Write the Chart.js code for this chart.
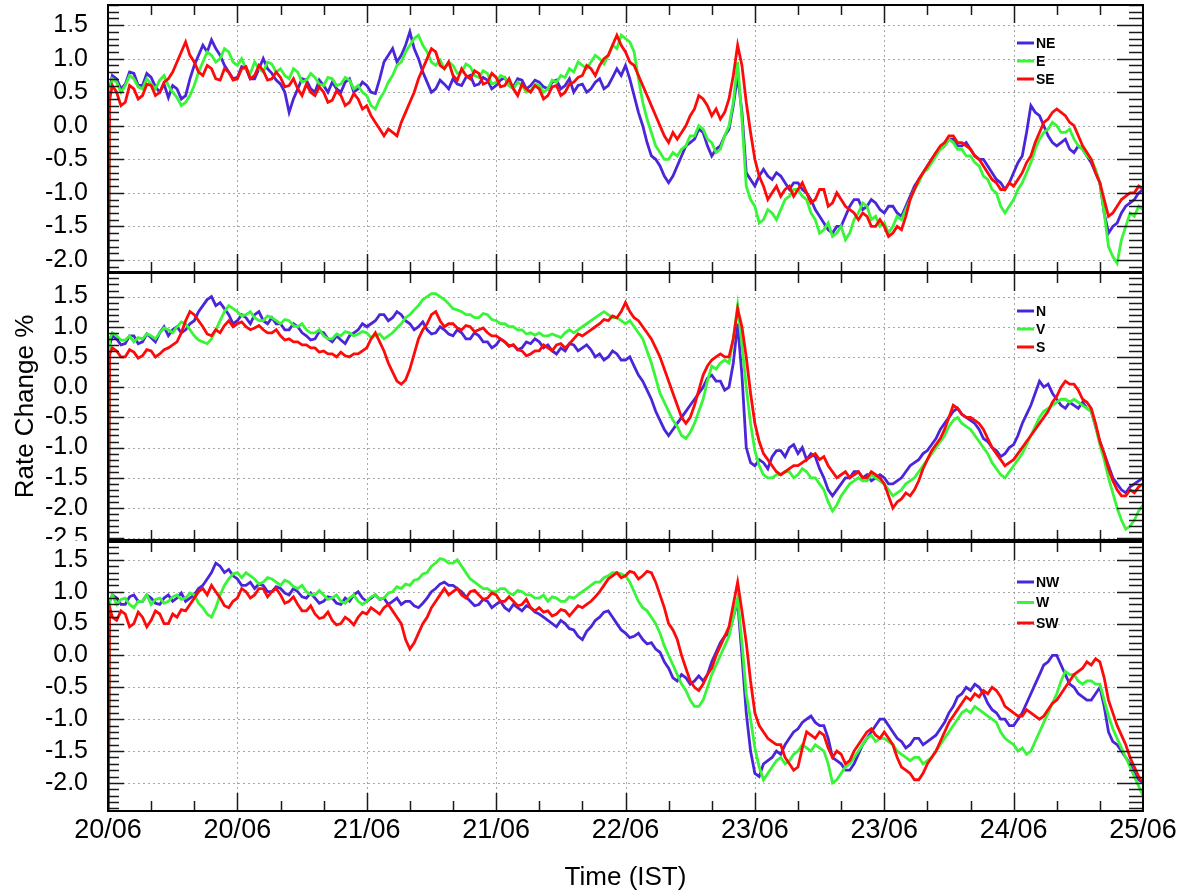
<!DOCTYPE html>
<html>
<head>
<meta charset="utf-8">
<script src="https://cdn.jsdelivr.net/npm/chart.js@4.4.1/dist/chart.umd.min.js"></script>
<style>
  html, body { margin: 0; padding: 0; background: #fff; }
  #wrap { position: relative; width: 1179px; height: 893px; overflow: hidden; background: #fff; }
  canvas { position: absolute; left: 0; }
</style>
</head>
<body>
<div id="wrap">
  <canvas id="p1" width="1179" height="273" style="top:0px"></canvas>
  <canvas id="p2" width="1179" height="268" style="top:273px"></canvas>
  <canvas id="p3" width="1179" height="352" style="top:541px"></canvas>
</div>
<script>
// Rate change (%) per direction, half-hourly readings from 20/06 00:00 to 25/06 00:00 (IST)

const xTickLabels = ['20/06', '20/06', '21/06', '21/06', '22/06', '23/06', '23/06', '24/06', '25/06'];
const STEP_HOURS = 0.5;
const START_DROP = -3; // first reading sits below every panel's axis

// panel 1 (one row = 10 hours)
const seriesNE = [
  0.55, 0.75, 0.7, 0.55, 0.62, 0.8, 0.78, 0.6, 0.6, 0.78, 0.72, 0.58, 0.5, 0.62, 0.42, 0.6, 0.55, 0.4, 0.45, 0.7,
  0.9, 1.05, 1.2, 1.1, 1.28, 1.15, 1.05, 0.9, 0.8, 0.7, 0.72, 0.88, 0.85, 0.7, 0.7, 0.85, 1.0, 0.85, 0.78, 0.68,
  0.62, 0.5, 0.2, 0.4, 0.55, 0.7, 0.68, 0.55, 0.5, 0.68, 0.6, 0.5, 0.65, 0.55, 0.5, 0.65, 0.7, 0.5, 0.55, 0.65,
  0.6, 0.5, 0.48, 0.7, 0.95, 1.05, 1.15, 0.95, 1.05, 1.2, 1.4, 1.15, 1.0, 0.8, 0.65, 0.5, 0.55, 0.68, 0.62, 0.55,
  0.7, 0.62, 0.6, 0.72, 0.75, 0.6, 0.62, 0.72, 0.68, 0.55, 0.6, 0.68, 0.72, 0.6, 0.58, 0.7, 0.68, 0.55, 0.6, 0.68,
  0.65, 0.58, 0.55, 0.65, 0.68, 0.55, 0.6, 0.7, 0.5, 0.6, 0.62, 0.5, 0.55, 0.65, 0.7, 0.55, 0.6, 0.72, 0.85, 0.75,
  0.9, 0.7, 0.45, 0.2, 0.0, -0.25, -0.45, -0.5, -0.6, -0.75, -0.85, -0.75, -0.6, -0.45, -0.3, -0.25, -0.2, -0.05, -0.1, -0.3,
  -0.45, -0.35, -0.3, -0.15, -0.05, 0.3, 0.75, 0.2, -0.7, -0.8, -0.9, -0.75, -0.65, -0.75, -0.8, -0.7, -0.75, -0.85, -0.95, -0.85,
  -0.85, -0.95, -1.0, -1.1, -1.25, -1.35, -1.45, -1.55, -1.6, -1.5, -1.5, -1.35, -1.2, -1.1, -1.1, -1.25, -1.2, -1.1, -1.15, -1.25,
  -1.3, -1.2, -1.2, -1.3, -1.35, -1.2, -1.05, -0.9, -0.8, -0.7, -0.6, -0.5, -0.4, -0.35, -0.3, -0.2, -0.2, -0.3, -0.3, -0.25,
  -0.35, -0.45, -0.5, -0.5, -0.6, -0.7, -0.8, -0.85, -0.95, -0.85, -0.7, -0.55, -0.45, -0.1, 0.3, 0.2, 0.15, 0.0, -0.15, -0.25,
  -0.3, -0.25, -0.2, -0.35, -0.4, -0.3, -0.35, -0.45, -0.55, -0.7, -0.85, -1.3, -1.6, -1.5, -1.45, -1.3, -1.2, -1.15, -1.1, -1.0, -0.95
];
const seriesE = [
  0.5, 0.7, 0.65, 0.5, 0.6, 0.75, 0.7, 0.58, 0.55, 0.7, 0.62, 0.55, 0.68, 0.75, 0.6, 0.5, 0.42, 0.3, 0.35, 0.45,
  0.6, 0.8, 0.95, 1.1, 1.05, 0.95, 1.0, 1.15, 1.1, 0.95, 0.9, 1.0, 0.85, 0.78, 0.95, 0.85, 0.8, 0.95, 0.92, 0.8,
  0.85, 0.75, 0.7, 0.85, 0.8, 0.65, 0.68, 0.78, 0.72, 0.62, 0.6, 0.72, 0.7, 0.6, 0.62, 0.72, 0.68, 0.55, 0.6, 0.5,
  0.45, 0.3, 0.25, 0.4, 0.5, 0.65, 0.75, 0.9, 0.95, 1.1, 1.2, 1.3, 1.35, 1.2, 1.1, 0.95, 0.9, 0.98, 0.85, 0.95,
  0.9, 0.78, 0.8, 0.92, 0.88, 0.75, 0.72, 0.82, 0.78, 0.62, 0.65, 0.75, 0.72, 0.6, 0.55, 0.65, 0.6, 0.5, 0.52, 0.62,
  0.6, 0.5, 0.55, 0.68, 0.65, 0.75, 0.72, 0.85, 0.8, 0.95, 0.9, 0.85, 0.95, 1.05, 1.0, 0.92, 1.05, 1.2, 1.15, 1.35,
  1.3, 1.25, 1.1, 0.7, 0.35, 0.1, -0.1, -0.3, -0.4, -0.5, -0.5, -0.4, -0.45, -0.35, -0.3, -0.15, -0.15, 0.0, -0.05, -0.2,
  -0.25, -0.4, -0.35, -0.15, 0.0, 0.35, 0.95, 0.1, -0.9, -1.1, -1.2, -1.45, -1.4, -1.25, -1.3, -1.4, -1.25, -1.1, -1.05, -0.95,
  -0.95, -1.05, -1.1, -1.3, -1.4, -1.6, -1.55, -1.45, -1.65, -1.6, -1.5, -1.7, -1.6, -1.4, -1.3, -1.15, -1.2, -1.4, -1.35, -1.5,
  -1.45, -1.6, -1.5, -1.35, -1.4, -1.25, -1.1, -0.95, -0.85, -0.7, -0.65, -0.55, -0.45, -0.35, -0.3, -0.2, -0.25, -0.35, -0.35, -0.45,
  -0.45, -0.55, -0.6, -0.75, -0.8, -0.95, -1.0, -1.2, -1.3, -1.2, -1.1, -0.95, -0.85, -0.7, -0.55, -0.35, -0.2, -0.1, -0.05, 0.05,
  0.0, -0.1, -0.1, -0.05, -0.2, -0.3, -0.35, -0.45, -0.5, -0.65, -0.85, -1.3, -1.8, -1.95, -2.05, -1.7, -1.5, -1.3, -1.35, -1.2, -1.25
];
const seriesSE = [
  0.4, 0.6, 0.5, 0.3, 0.35, 0.6, 0.55, 0.4, 0.45, 0.62, 0.6, 0.45, 0.5, 0.65, 0.7, 0.8, 0.95, 1.1, 1.25, 1.05,
  0.95, 0.8, 0.75, 0.9, 0.85, 0.7, 0.68, 0.85, 0.8, 0.68, 0.7, 0.85, 0.88, 0.7, 0.75, 0.9, 0.82, 0.68, 0.7, 0.8,
  0.72, 0.58, 0.6, 0.7, 0.55, 0.45, 0.62, 0.5, 0.45, 0.58, 0.5, 0.35, 0.38, 0.52, 0.45, 0.3, 0.35, 0.48, 0.4, 0.25,
  0.3, 0.15, 0.05, -0.05, -0.15, -0.05, -0.1, -0.15, 0.05, 0.2, 0.35, 0.5, 0.7, 0.85, 1.0, 1.15, 1.1, 0.9, 0.85, 0.95,
  0.75, 0.68, 0.85, 0.75, 0.7, 0.82, 0.78, 0.62, 0.65, 0.78, 0.72, 0.58, 0.6, 0.7, 0.55, 0.45, 0.62, 0.55, 0.5, 0.6,
  0.55, 0.4, 0.45, 0.58, 0.6, 0.45, 0.5, 0.62, 0.65, 0.72, 0.75, 0.9, 0.85, 0.75, 0.9, 1.0, 1.05, 1.2, 1.35, 1.2,
  1.1, 0.95, 0.9, 0.75, 0.6, 0.45, 0.3, 0.15, 0.0, -0.15, -0.25, -0.1, -0.2, -0.1, 0.0, 0.15, 0.25, 0.45, 0.4, 0.3,
  0.15, 0.25, 0.1, 0.2, 0.4, 0.75, 1.2, 0.9, 0.35, -0.1, -0.5, -0.75, -0.9, -1.1, -1.0, -0.9, -1.05, -0.95, -0.9, -1.05,
  -0.95, -0.85, -1.0, -1.15, -1.1, -0.95, -0.95, -1.2, -1.15, -1.0, -1.1, -1.2, -1.25, -1.3, -1.4, -1.3, -1.35, -1.5, -1.5, -1.4,
  -1.5, -1.65, -1.6, -1.5, -1.55, -1.35, -1.1, -0.95, -0.8, -0.7, -0.6, -0.5, -0.4, -0.3, -0.25, -0.15, -0.15, -0.25, -0.25, -0.3,
  -0.35, -0.45, -0.5, -0.6, -0.7, -0.8, -0.85, -0.95, -0.95, -0.85, -0.9, -0.8, -0.7, -0.55, -0.45, -0.25, -0.1, 0.05, 0.1, 0.2,
  0.25, 0.2, 0.15, 0.05, 0.0, -0.15, -0.3, -0.4, -0.5, -0.7, -0.85, -1.1, -1.35, -1.3, -1.2, -1.1, -1.05, -1.0, -1.0, -0.9, -0.95
];

// panel 2
const seriesN = [
  0.7, 0.85, 0.8, 0.7, 0.72, 0.85, 0.85, 0.72, 0.75, 0.88, 0.82, 0.75, 0.9, 1.0, 0.85, 0.95, 1.0, 0.9, 0.95, 1.05,
  1.1, 1.25, 1.35, 1.45, 1.5, 1.35, 1.4, 1.3, 1.2, 1.05, 1.1, 1.2, 1.15, 1.05, 1.2, 1.25, 1.1, 1.05, 1.15, 1.05,
  1.05, 0.95, 0.95, 1.05, 1.0, 0.9, 0.85, 0.78, 0.8, 0.92, 0.9, 0.8, 0.75, 0.85, 0.78, 0.72, 0.85, 0.9, 0.95, 1.05,
  1.0, 1.05, 1.1, 1.2, 1.2, 1.1, 1.15, 1.25, 1.2, 1.1, 1.05, 0.95, 1.0, 1.08, 0.95, 0.88, 0.9, 1.0, 0.95, 0.88,
  0.85, 0.95, 0.9, 0.8, 0.8, 0.9, 0.85, 0.75, 0.75, 0.65, 0.7, 0.8, 0.75, 0.68, 0.7, 0.62, 0.65, 0.75, 0.72, 0.8,
  0.75, 0.65, 0.7, 0.6, 0.55, 0.65, 0.6, 0.72, 0.7, 0.6, 0.65, 0.7, 0.62, 0.5, 0.55, 0.45, 0.5, 0.6, 0.55, 0.45,
  0.45, 0.5, 0.35, 0.2, 0.1, -0.05, -0.2, -0.4, -0.55, -0.7, -0.8, -0.7, -0.6, -0.5, -0.4, -0.3, -0.2, -0.1, 0.0, 0.15,
  0.2, 0.1, 0.1, -0.05, 0.0, 0.4, 1.05, 0.2, -1.0, -1.25, -1.3, -1.2, -1.25, -1.35, -1.15, -1.05, -1.05, -1.15, -1.0, -0.95,
  -1.1, -1.0, -1.2, -1.1, -1.15, -1.35, -1.5, -1.7, -1.8, -1.7, -1.6, -1.5, -1.5, -1.4, -1.4, -1.5, -1.45, -1.55, -1.5, -1.45,
  -1.5, -1.6, -1.6, -1.55, -1.5, -1.4, -1.3, -1.25, -1.2, -1.1, -1.05, -0.95, -0.85, -0.7, -0.6, -0.5, -0.4, -0.35, -0.45, -0.5,
  -0.55, -0.6, -0.7, -0.85, -0.9, -1.0, -1.05, -1.15, -1.1, -1.0, -0.95, -0.8, -0.6, -0.45, -0.3, -0.1, 0.1, 0.0, 0.05, -0.1,
  -0.2, -0.3, -0.35, -0.25, -0.3, -0.35, -0.25, -0.35, -0.4, -0.65, -0.9, -1.1, -1.3, -1.5, -1.6, -1.7, -1.75, -1.65, -1.6, -1.55, -1.5
];
const seriesV = [
  0.8, 0.9, 0.85, 0.78, 0.78, 0.85, 0.75, 0.82, 0.8, 0.88, 0.85, 0.8, 0.9, 0.98, 0.95, 0.9, 1.0, 1.08, 1.05, 0.95,
  0.85, 0.78, 0.75, 0.72, 0.8, 0.95, 1.1, 1.25, 1.35, 1.3, 1.25, 1.18, 1.2, 1.25, 1.15, 1.1, 1.1, 1.18, 1.15, 1.1,
  1.05, 1.12, 1.1, 1.02, 1.0, 1.05, 0.95, 0.9, 0.9, 0.95, 0.85, 0.8, 0.8, 0.88, 0.85, 0.92, 0.9, 0.85, 0.88, 0.92,
  0.9, 0.82, 0.85, 0.88, 0.8, 0.85, 0.9, 0.98, 1.05, 1.15, 1.2, 1.28, 1.35, 1.45, 1.5, 1.55, 1.55, 1.5, 1.45, 1.38,
  1.3, 1.28, 1.25, 1.2, 1.2, 1.15, 1.15, 1.22, 1.2, 1.12, 1.1, 1.05, 1.05, 1.0, 1.0, 0.95, 0.95, 0.88, 0.9, 0.86,
  0.9, 0.85, 0.85, 0.88, 0.85, 0.82, 0.9, 0.95, 0.9, 0.95, 1.0, 1.05, 1.1, 1.15, 1.2, 1.25, 1.2, 1.15, 1.15, 1.1,
  1.05, 1.1, 1.0, 0.9, 0.8, 0.6, 0.4, 0.15, -0.1, -0.25, -0.4, -0.55, -0.65, -0.8, -0.85, -0.75, -0.6, -0.4, -0.2, 0.1,
  0.35, 0.3, 0.4, 0.45, 0.4, 0.8, 1.35, 0.7, 0.0, -0.6, -1.05, -1.3, -1.45, -1.5, -1.5, -1.45, -1.45, -1.4, -1.4, -1.5,
  -1.45, -1.35, -1.4, -1.5, -1.5, -1.6, -1.7, -1.9, -2.05, -1.95, -1.8, -1.7, -1.6, -1.55, -1.5, -1.55, -1.55, -1.45, -1.5, -1.55,
  -1.6, -1.7, -1.8, -1.75, -1.7, -1.6, -1.55, -1.5, -1.4, -1.3, -1.2, -1.1, -1.0, -0.9, -0.8, -0.65, -0.55, -0.5, -0.6, -0.65,
  -0.7, -0.8, -0.9, -1.0, -1.1, -1.25, -1.35, -1.45, -1.5, -1.4, -1.3, -1.2, -1.1, -0.95, -0.8, -0.65, -0.5, -0.4, -0.35, -0.3,
  -0.25, -0.2, -0.2, -0.25, -0.2, -0.25, -0.3, -0.35, -0.4, -0.65, -0.95, -1.2, -1.5, -1.75, -2.0, -2.2, -2.35, -2.3, -2.2, -2.05, -1.95
];
const seriesS = [
  0.55, 0.65, 0.6, 0.5, 0.5, 0.62, 0.58, 0.48, 0.52, 0.62, 0.6, 0.5, 0.55, 0.62, 0.65, 0.7, 0.75, 0.9, 1.1, 1.25,
  1.2, 1.1, 1.0, 0.88, 0.85, 0.95, 0.9, 1.02, 1.1, 1.0, 1.05, 1.08, 1.0, 0.95, 0.98, 1.02, 0.95, 0.9, 0.9, 0.95,
  0.85, 0.78, 0.8, 0.75, 0.75, 0.7, 0.7, 0.65, 0.65, 0.58, 0.6, 0.55, 0.55, 0.5, 0.58, 0.52, 0.5, 0.55, 0.55, 0.6,
  0.65, 0.8, 0.9, 0.75, 0.6, 0.4, 0.25, 0.1, 0.05, 0.12, 0.3, 0.55, 0.8, 0.95, 1.05, 1.2, 1.25, 1.1, 1.0, 1.05,
  1.05, 0.98, 0.95, 1.02, 1.0, 0.92, 0.95, 0.98, 0.9, 0.85, 0.85, 0.8, 0.75, 0.68, 0.7, 0.62, 0.6, 0.52, 0.55, 0.6,
  0.6, 0.7, 0.65, 0.6, 0.7, 0.72, 0.65, 0.72, 0.8, 0.88, 0.85, 0.9, 0.95, 1.0, 1.05, 1.12, 1.1, 1.18, 1.15, 1.25,
  1.4, 1.25, 1.15, 1.1, 1.0, 0.9, 0.8, 0.65, 0.5, 0.3, 0.1, -0.1, -0.3, -0.5, -0.6, -0.5, -0.3, -0.05, 0.2, 0.35,
  0.45, 0.5, 0.55, 0.5, 0.5, 0.8, 1.3, 1.0, 0.5, -0.1, -0.6, -0.9, -1.1, -1.2, -1.3, -1.4, -1.45, -1.4, -1.35, -1.3,
  -1.3, -1.25, -1.2, -1.15, -1.1, -1.2, -1.15, -1.3, -1.4, -1.5, -1.45, -1.4, -1.5, -1.45, -1.4, -1.5, -1.5, -1.4, -1.45, -1.5,
  -1.6, -1.8, -2.0, -1.9, -1.85, -1.75, -1.8, -1.7, -1.55, -1.35, -1.2, -1.05, -0.95, -0.85, -0.7, -0.5, -0.3, -0.35, -0.45, -0.5,
  -0.5, -0.55, -0.6, -0.7, -0.85, -1.0, -1.1, -1.2, -1.3, -1.25, -1.2, -1.1, -1.0, -0.9, -0.8, -0.7, -0.6, -0.5, -0.4, -0.25,
  -0.15, 0.0, 0.1, 0.05, 0.05, -0.05, -0.2, -0.25, -0.35, -0.6, -0.9, -1.1, -1.35, -1.55, -1.7, -1.8, -1.8, -1.7, -1.75, -1.65, -1.6
];

// panel 3
const seriesNW = [
  0.85, 0.95, 0.9, 0.8, 0.8, 0.92, 0.95, 0.85, 0.85, 0.95, 0.9, 0.82, 0.8, 0.9, 0.95, 0.85, 0.9, 0.98, 0.85, 0.9,
  0.95, 1.05, 1.1, 1.2, 1.3, 1.45, 1.4, 1.3, 1.35, 1.25, 1.2, 1.1, 1.1, 1.15, 1.05, 1.12, 1.1, 1.0, 1.0, 1.08,
  1.05, 0.98, 0.95, 1.05, 1.0, 0.92, 0.9, 0.98, 0.9, 0.82, 0.85, 0.92, 0.9, 0.82, 0.8, 0.9, 0.85, 0.95, 1.0, 0.9,
  0.85, 0.9, 0.95, 0.88, 0.9, 0.8, 0.85, 0.9, 0.8, 0.85, 0.85, 0.78, 0.75, 0.82, 0.9, 1.0, 1.05, 1.12, 1.15, 1.1,
  1.1, 1.05, 1.0, 0.92, 0.85, 0.78, 0.8, 0.88, 0.85, 0.75, 0.8, 0.85, 0.75, 0.7, 0.8, 0.75, 0.7, 0.78, 0.75, 0.68,
  0.65, 0.6, 0.55, 0.5, 0.45, 0.55, 0.5, 0.42, 0.4, 0.3, 0.25, 0.38, 0.45, 0.55, 0.6, 0.68, 0.7, 0.6, 0.5, 0.4,
  0.35, 0.28, 0.3, 0.35, 0.25, 0.18, 0.2, 0.1, 0.05, -0.1, -0.2, -0.35, -0.4, -0.3, -0.35, -0.45, -0.4, -0.32, -0.4, -0.3,
  -0.1, 0.05, 0.2, 0.3, 0.35, 0.6, 0.85, 0.0, -0.9, -1.5, -1.85, -1.9, -1.7, -1.65, -1.6, -1.5, -1.55, -1.4, -1.3, -1.2,
  -1.15, -1.05, -1.0, -0.95, -1.05, -1.1, -1.1, -1.3, -1.6, -1.65, -1.7, -1.8, -1.8, -1.7, -1.55, -1.4, -1.3, -1.2, -1.1, -1.0,
  -1.0, -1.1, -1.2, -1.3, -1.35, -1.45, -1.4, -1.3, -1.3, -1.4, -1.35, -1.3, -1.25, -1.15, -1.05, -0.9, -0.8, -0.65, -0.6, -0.5,
  -0.55, -0.45, -0.5, -0.6, -0.75, -0.85, -0.9, -1.0, -1.0, -1.1, -1.1, -1.0, -0.9, -0.75, -0.6, -0.45, -0.3, -0.15, -0.1, 0.0,
  0.0, -0.15, -0.3, -0.45, -0.5, -0.6, -0.65, -0.7, -0.7, -0.6, -0.5, -0.8, -1.2, -1.35, -1.4, -1.5, -1.6, -1.7, -1.85, -1.95, -2.0
];
const seriesW = [
  0.85, 0.95, 0.8, 0.88, 0.9, 0.8, 0.75, 0.85, 0.85, 0.95, 0.8, 0.88, 0.9, 0.82, 0.85, 0.92, 0.95, 0.88, 0.9, 0.98,
  0.95, 0.82, 0.75, 0.65, 0.6, 0.75, 0.95, 1.1, 1.2, 1.28, 1.3, 1.22, 1.3, 1.25, 1.2, 1.12, 1.15, 1.22, 1.2, 1.15,
  1.1, 1.18, 1.15, 1.08, 1.05, 1.1, 1.0, 0.95, 0.95, 1.02, 0.95, 0.88, 0.9, 0.95, 0.85, 0.82, 0.9, 0.95, 0.85, 0.8,
  0.85, 0.92, 0.95, 0.88, 0.9, 0.98, 1.0, 1.08, 1.05, 1.12, 1.1, 1.18, 1.2, 1.28, 1.3, 1.4, 1.45, 1.52, 1.5, 1.45,
  1.45, 1.5, 1.4, 1.3, 1.2, 1.15, 1.1, 1.05, 1.05, 1.0, 1.0, 1.05, 1.05, 0.98, 0.95, 1.02, 1.0, 0.95, 0.95, 0.9,
  0.9, 0.95, 0.85, 0.92, 0.9, 0.85, 0.85, 0.92, 0.9, 0.95, 1.0, 1.05, 1.1, 1.15, 1.15, 1.22, 1.25, 1.3, 1.3, 1.28,
  1.25, 1.15, 1.0, 0.85, 0.75, 0.7, 0.6, 0.5, 0.35, 0.15, 0.0, -0.15, -0.3, -0.45, -0.55, -0.7, -0.8, -0.8, -0.7, -0.5,
  -0.3, -0.15, 0.0, 0.15, 0.3, 0.6, 0.9, 0.2, -0.6, -1.0, -1.45, -1.75, -1.95, -1.85, -1.75, -1.65, -1.6, -1.7, -1.65, -1.55,
  -1.5, -1.4, -1.45, -1.5, -1.4, -1.45, -1.5, -1.7, -2.0, -1.95, -1.85, -1.75, -1.7, -1.6, -1.5, -1.4, -1.3, -1.25, -1.35, -1.3,
  -1.3, -1.35, -1.4, -1.5, -1.55, -1.6, -1.65, -1.6, -1.6, -1.7, -1.65, -1.6, -1.5, -1.4, -1.3, -1.2, -1.1, -1.0, -0.9, -0.85,
  -0.9, -0.8, -0.85, -0.9, -0.95, -1.0, -1.05, -1.2, -1.3, -1.35, -1.4, -1.5, -1.45, -1.55, -1.5, -1.35, -1.2, -1.05, -0.9, -0.75,
  -0.6, -0.4, -0.25, -0.3, -0.3, -0.4, -0.45, -0.4, -0.4, -0.45, -0.45, -0.7, -0.95, -1.15, -1.3, -1.45, -1.6, -1.75, -1.9, -2.05, -2.2
];
const seriesSW = [
  0.75, 0.6, 0.55, 0.7, 0.65, 0.45, 0.5, 0.68, 0.6, 0.45, 0.55, 0.7, 0.65, 0.5, 0.5, 0.65, 0.6, 0.72, 0.7, 0.8,
  0.9, 1.0, 1.05, 0.95, 1.1, 1.0, 0.9, 0.78, 0.75, 0.85, 0.9, 1.05, 1.0, 0.9, 0.95, 1.05, 1.05, 0.92, 1.0, 1.05,
  0.95, 0.82, 0.85, 0.92, 0.8, 0.7, 0.7, 0.78, 0.65, 0.58, 0.6, 0.68, 0.55, 0.48, 0.5, 0.6, 0.55, 0.48, 0.6, 0.68,
  0.65, 0.75, 0.7, 0.65, 0.75, 0.8, 0.7, 0.6, 0.5, 0.25, 0.1, 0.2, 0.35, 0.5, 0.6, 0.75, 0.85, 0.95, 1.05, 0.95,
  1.0, 1.05, 0.95, 0.9, 1.0, 1.02, 0.95, 0.88, 0.9, 0.98, 0.95, 0.85, 0.85, 0.92, 0.85, 0.78, 0.8, 0.88, 0.75, 0.7,
  0.75, 0.68, 0.7, 0.62, 0.65, 0.72, 0.7, 0.62, 0.7, 0.78, 0.75, 0.8, 0.85, 0.92, 1.0, 1.1, 1.2, 1.25, 1.3, 1.22,
  1.25, 1.32, 1.3, 1.2, 1.25, 1.32, 1.3, 1.15, 0.95, 0.75, 0.5, 0.4, 0.25, 0.0, -0.2, -0.4, -0.5, -0.55, -0.45, -0.3,
  -0.2, 0.0, 0.15, 0.3, 0.45, 0.8, 1.15, 0.7, 0.2, -0.4, -0.9, -1.1, -1.2, -1.3, -1.35, -1.4, -1.4, -1.6, -1.7, -1.8,
  -1.75, -1.45, -1.2, -1.25, -1.3, -1.2, -1.25, -1.45, -1.6, -1.5, -1.55, -1.7, -1.65, -1.5, -1.4, -1.3, -1.2, -1.15, -1.25, -1.3,
  -1.2, -1.3, -1.4, -1.6, -1.75, -1.8, -1.85, -1.95, -1.95, -1.85, -1.7, -1.6, -1.5, -1.35, -1.2, -1.05, -0.95, -0.85, -0.75, -0.65,
  -0.7, -0.6, -0.65, -0.55, -0.6, -0.5, -0.55, -0.65, -0.8, -0.85, -0.9, -0.95, -0.95, -0.85, -0.9, -0.95, -1.0, -0.95, -0.85, -0.75,
  -0.7, -0.6, -0.5, -0.4, -0.3, -0.25, -0.2, -0.1, -0.15, -0.05, -0.1, -0.35, -0.7, -0.9, -1.1, -1.25, -1.4, -1.6, -1.75, -1.9, -2.0
];

const BLUE = '#4b26d9';
const GREEN = '#38f538';
const RED = '#ff0a0a';
const FONT = "'Liberation Sans', Arial, Helvetica, sans-serif";

Chart.defaults.font.family = FONT;
Chart.defaults.color = '#000';

function toPoints(values) {
  const pts = [{ x: 0, y: START_DROP }];
  values.forEach((v, i) => pts.push({ x: i === 0 ? 0.2 : i * STEP_HOURS, y: v }));
  return pts;
}

// grid, inner ticks, frame and the in-panel legend
const panelDecor = {
  id: 'panelDecor',
  beforeDatasetsDraw(chart) {
    const { ctx, chartArea: a, scales: { x, y } } = chart;
    ctx.save();
    ctx.strokeStyle = '#a8a8a8';
    ctx.lineWidth = 1;
    ctx.setLineDash([2, 3]);
    ctx.beginPath();
    for (let v = Math.ceil(y.min / 0.5) * 0.5; v <= y.max; v += 0.5) {
      const py = Math.round(y.getPixelForValue(v)) + 0.5;
      ctx.moveTo(a.left, py);
      ctx.lineTo(a.right, py);
    }
    for (let h = 15; h < 120; h += 15) {
      const px = Math.round(x.getPixelForValue(h)) + 0.5;
      ctx.moveTo(px, a.top);
      ctx.lineTo(px, a.bottom);
    }
    ctx.stroke();
    ctx.restore();
  },
  afterDatasetsDraw(chart, args, opts) {
    const { ctx, chartArea: a, scales: { x, y } } = chart;
    ctx.save();
    ctx.setLineDash([]);
    ctx.strokeStyle = '#1a1a1a';
    ctx.lineWidth = 1.5;
    ctx.beginPath();
    for (let k = Math.ceil(y.min * 10); k <= Math.floor(y.max * 10); k += 1) {
      const py = Math.round(y.getPixelForValue(k / 10)) + 0.5;
      const major = k % 5 === 0;
      ctx.moveTo(a.left, py);
      ctx.lineTo(a.left + (major ? 16 : 11), py);
      ctx.moveTo(a.right, py);
      ctx.lineTo(a.right - (major ? 26 : 14), py);
    }
    for (let h = 5; h < 120; h += 5) {
      const px = Math.round(x.getPixelForValue(h)) + 0.5;
      const len = h % 15 === 0 ? 18 : 10;
      ctx.moveTo(px, a.top);
      ctx.lineTo(px, a.top + len);
      ctx.moveTo(px, a.bottom);
      ctx.lineTo(px, a.bottom - len);
    }
    ctx.stroke();

    ctx.strokeStyle = '#000';
    ctx.lineWidth = 2;
    ctx.strokeRect(a.left, a.top, a.right - a.left, a.bottom - a.top);

    ctx.font = `bold 14px ${FONT}`;
    ctx.textBaseline = 'middle';
    ctx.textAlign = 'left';
    chart.data.datasets.forEach((ds, i) => {
      const ly = a.top + opts.legendTop + i * opts.legendGap;
      ctx.strokeStyle = ds.borderColor;
      ctx.lineWidth = 3;
      ctx.beginPath();
      ctx.moveTo(a.right - 126, ly);
      ctx.lineTo(a.right - 109, ly);
      ctx.stroke();
      ctx.fillStyle = '#000';
      ctx.fillText(ds.label, a.right - 107, ly + 1);
    });
    ctx.restore();
  },
};

function makePanel(id, cfg) {
  const canvas = document.getElementById(id);
  const isBottom = !!cfg.showTime;

  const xScale = {
    type: 'linear',
    min: 0,
    max: 120,
    display: isBottom,
    ticks: {
      stepSize: 15,
      autoSkip: false,
      maxRotation: 0,
      padding: 3,
      font: { size: 27 },
      color: '#000',
      callback: (v) => xTickLabels[Math.round(v / 15)],
    },
    grid: { display: false, drawTicks: false },
    border: { display: false },
    title: {
      display: isBottom,
      text: 'Time (IST)',
      font: { size: 26 },
      color: '#000',
      padding: { top: 0, bottom: 0 },
    },
    afterFit(s) {
      if (isBottom) s.height = 82;
      s.paddingLeft = 0;
      s.paddingRight = 0;
    },
  };

  const yScale = {
    type: 'linear',
    min: cfg.yMin,
    max: cfg.yMax,
    ticks: {
      stepSize: 0.5,
      includeBounds: false,
      autoSkip: false,
      padding: 20,
      font: { size: 25 },
      color: '#000',
      callback: (v) => v.toFixed(1),
    },
    grid: { display: false, drawTicks: false },
    border: { display: false },
    title: {
      display: !!cfg.yTitle,
      text: cfg.yTitle || '',
      font: { size: 26 },
      color: '#000',
      padding: { top: 10, bottom: 0 },
    },
    afterFit(s) {
      s.width = 108;
      s.paddingTop = 0;
      s.paddingBottom = 0;
    },
  };

  // eslint-disable-next-line no-new
  new Chart(canvas.getContext('2d'), {
    type: 'line',
    data: {
      datasets: cfg.series.map((s, i) => ({
        label: s.label,
        data: toPoints(s.values),
        borderColor: s.color,
        backgroundColor: s.color,
        borderWidth: 2.8,
        pointRadius: 0,
        tension: 0,
        fill: false,
        order: 3 - i,
      })),
    },
    options: {
      responsive: false,
      animation: false,
      devicePixelRatio: 1,
      layout: { padding: { left: 0, right: 36, top: cfg.padTop, bottom: cfg.padBottom } },
      plugins: {
        legend: { display: false },
        tooltip: { enabled: false },
        panelDecor: { legendTop: cfg.legendTop, legendGap: cfg.legendGap },
      },
      scales: { x: xScale, y: yScale },
    },
    plugins: [panelDecor],
  });
}

makePanel('p1', {
  yMin: -2.18, yMax: 1.8, padTop: 5, padBottom: 1, legendTop: 38, legendGap: 18,
  series: [
    { label: 'NE', values: seriesNE, color: BLUE },
    { label: 'E', values: seriesE, color: GREEN },
    { label: 'SE', values: seriesSE, color: RED },
  ],
});

makePanel('p2', {
  yMin: -2.53, yMax: 1.89, padTop: 0, padBottom: 1, legendTop: 38, legendGap: 18,
  yTitle: 'Rate Change %',
  series: [
    { label: 'N', values: seriesN, color: BLUE },
    { label: 'V', values: seriesV, color: GREEN },
    { label: 'S', values: seriesS, color: RED },
  ],
});

makePanel('p3', {
  yMin: -2.44, yMax: 1.78, padTop: 1, padBottom: 0, legendTop: 40, legendGap: 20.5,
  showTime: true,
  series: [
    { label: 'NW', values: seriesNW, color: BLUE },
    { label: 'W', values: seriesW, color: GREEN },
    { label: 'SW', values: seriesSW, color: RED },
  ],
});
</script>
</body>
</html>
